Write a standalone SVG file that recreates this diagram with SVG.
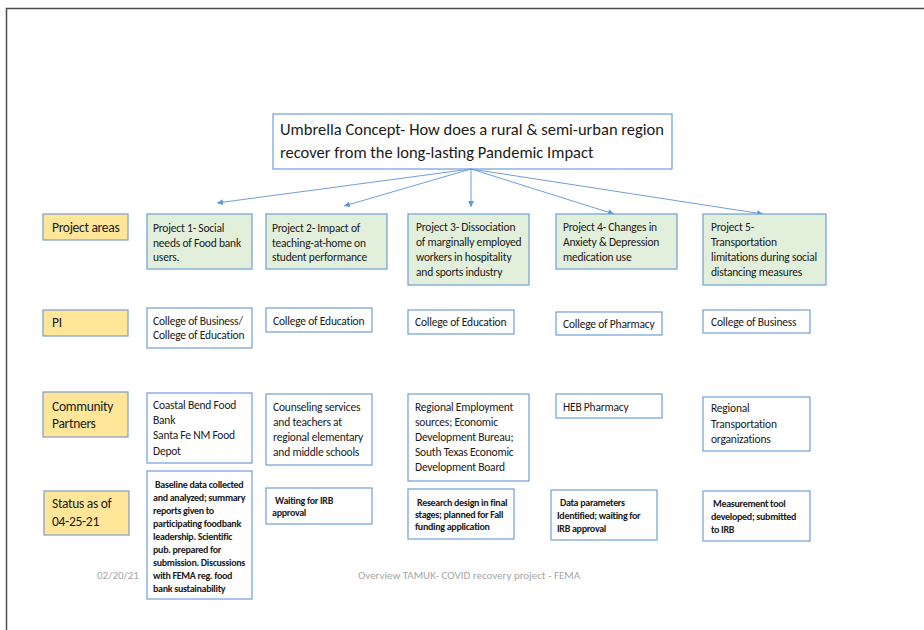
<svg xmlns="http://www.w3.org/2000/svg" width="924" height="630" viewBox="0 0 924 630">
  <style>
    .frame { fill: #ffffff; stroke: #4d4d4d; stroke-width: 1.5; }
    .box { fill: #ffffff; stroke: #6f9fd8; stroke-width: 1.2; }
    .proj { fill: #e2efda; stroke: #6f9fd8; stroke-width: 1.2; }
    .lbl { fill: #ffe699; stroke: #7c9ccc; stroke-width: 1.2; }
    .t { font-family: Carlito, Lato, "Liberation Sans", sans-serif; fill: #1a1a1a; font-size: 11.5px; letter-spacing: -0.2px; }
    .title { font-family: Carlito, Lato, "Liberation Sans", sans-serif; fill: #1a1a1a; font-size: 16.5px; }
    .lt { font-family: Carlito, Lato, "Liberation Sans", sans-serif; fill: #1a1a1a; font-size: 13.5px; letter-spacing: -0.3px; }
    .st { font-family: Carlito, Lato, "Liberation Sans", sans-serif; fill: #1a1a1a; font-size: 10px; font-weight: bold; letter-spacing: -0.3px; }
    .foot { font-family: Carlito, Lato, "Liberation Sans", sans-serif; fill: #a6a6a6; font-size: 11px; }
    .conn { stroke: #6f9fd8; stroke-width: 1; fill: none; marker-end: url(#arr); }
  </style>
  <defs>
    <marker id="arr" viewBox="0 0 10 10" refX="10" refY="5" markerWidth="6" markerHeight="6" orient="auto" markerUnits="userSpaceOnUse">
      <path d="M0,0 L10,5 L0,10 z" fill="#5b9bd5"/>
    </marker>
  </defs>

  <rect class="frame" x="6.5" y="8.5" width="1000" height="700"/>

  <!-- umbrella concept -->
  <g id="umbrella">
    <rect class="box" x="273" y="114" width="399" height="55"/>
    <text class="title" x="280" y="135">Umbrella Concept- How does a rural &amp; semi-urban region</text>
    <text class="title" x="280" y="158">recover from the long-lasting Pandemic Impact</text>
  </g>

  <!-- connectors from the umbrella box to each project -->
  <g id="connectors">
    <line class="conn" x1="471" y1="169" x2="217" y2="203"/>
    <line class="conn" x1="471" y1="169" x2="344" y2="206"/>
    <line class="conn" x1="471" y1="169" x2="471" y2="207"/>
    <line class="conn" x1="471" y1="169" x2="614" y2="214"/>
    <line class="conn" x1="471" y1="169" x2="763" y2="214"/>
  </g>

  <!-- row labels -->
  <g id="label-project-areas">
    <rect class="lbl" x="43" y="214" width="85" height="26"/>
    <text class="lt" x="52" y="232">Project areas</text>
  </g>
  <g id="label-pi">
    <rect class="lbl" x="43" y="310" width="85" height="26"/>
    <text class="lt" x="52" y="327">PI</text>
  </g>
  <g id="label-community">
    <rect class="lbl" x="43" y="392" width="85" height="45"/>
    <text class="lt" x="52" y="411">Community</text>
    <text class="lt" x="52" y="428">Partners</text>
  </g>
  <g id="label-status">
    <rect class="lbl" x="44" y="491" width="85" height="44"/>
    <text class="lt" x="52" y="508">Status as of</text>
    <text class="lt" x="52" y="526">04-25-21</text>
  </g>

  <!-- project areas -->
  <g id="project-1">
    <rect class="proj" x="147" y="214" width="105" height="55"/>
    <text class="t" x="153" y="232">Project 1- Social</text>
    <text class="t" x="153" y="246.5">needs of Food bank</text>
    <text class="t" x="153" y="261">users.</text>
  </g>
  <g id="project-2">
    <rect class="proj" x="266" y="214" width="121" height="55"/>
    <text class="t" x="272" y="232">Project 2- Impact of</text>
    <text class="t" x="272" y="246.5">teaching-at-home on</text>
    <text class="t" x="272" y="261">student performance</text>
  </g>
  <g id="project-3">
    <rect class="proj" x="408" y="214" width="121" height="71"/>
    <text class="t" x="416" y="231">Project 3-  Dissociation</text>
    <text class="t" x="416" y="246">of marginally employed</text>
    <text class="t" x="416" y="261">workers in hospitality</text>
    <text class="t" x="416" y="276">and sports industry</text>
  </g>
  <g id="project-4">
    <rect class="proj" x="556" y="214" width="121" height="55"/>
    <text class="t" x="563" y="231">Project 4- Changes in</text>
    <text class="t" x="563" y="246">Anxiety &amp; Depression</text>
    <text class="t" x="563" y="261">medication use</text>
  </g>
  <g id="project-5">
    <rect class="proj" x="703" y="214" width="123" height="71"/>
    <text class="t" x="711" y="231">Project 5-</text>
    <text class="t" x="711" y="246">Transportation</text>
    <text class="t" x="711" y="261">limitations during social</text>
    <text class="t" x="711" y="276">distancing measures</text>
  </g>

  <!-- principal investigators -->
  <g id="pi-1">
    <rect class="box" x="147" y="308" width="105" height="40"/>
    <text class="t" x="153" y="325">College of Business/</text>
    <text class="t" x="153" y="339">College of Education</text>
  </g>
  <g id="pi-2">
    <rect class="box" x="266" y="308" width="106" height="24"/>
    <text class="t" x="273" y="325">College of Education</text>
  </g>
  <g id="pi-3">
    <rect class="box" x="408" y="310" width="106" height="24"/>
    <text class="t" x="415" y="326">College of Education</text>
  </g>
  <g id="pi-4">
    <rect class="box" x="556" y="312" width="106" height="23"/>
    <text class="t" x="563" y="328">College of Pharmacy</text>
  </g>
  <g id="pi-5">
    <rect class="box" x="703" y="310" width="107" height="23"/>
    <text class="t" x="711" y="326">College of Business</text>
  </g>

  <!-- community partners -->
  <g id="partners-1">
    <rect class="box" x="147" y="393" width="105" height="70"/>
    <text class="t" x="153" y="409">Coastal Bend Food</text>
    <text class="t" x="153" y="424">Bank</text>
    <text class="t" x="153" y="439">Santa Fe NM Food</text>
    <text class="t" x="153" y="455">Depot</text>
  </g>
  <g id="partners-2">
    <rect class="box" x="266" y="394" width="106" height="71"/>
    <text class="t" x="273" y="411">Counseling services</text>
    <text class="t" x="273" y="426">and teachers at</text>
    <text class="t" x="273" y="441">regional elementary</text>
    <text class="t" x="273" y="456">and middle schools</text>
  </g>
  <g id="partners-3">
    <rect class="box" x="408" y="394" width="121" height="87"/>
    <text class="t" x="415" y="411">Regional Employment</text>
    <text class="t" x="415" y="426">sources; Economic</text>
    <text class="t" x="415" y="441">Development Bureau;</text>
    <text class="t" x="415" y="456">South Texas Economic</text>
    <text class="t" x="415" y="471">Development Board</text>
  </g>
  <g id="partners-4">
    <rect class="box" x="556" y="394" width="106" height="24"/>
    <text class="t" x="563" y="411">HEB Pharmacy</text>
  </g>
  <g id="partners-5">
    <rect class="box" x="703" y="397" width="107" height="54"/>
    <text class="t" x="711" y="412">Regional</text>
    <text class="t" x="711" y="428">Transportation</text>
    <text class="t" x="711" y="443">organizations</text>
  </g>

  <!-- status -->
  <g id="status-1">
    <rect class="box" x="147" y="471" width="105" height="128"/>
    <text class="st" x="155" y="487.5">Baseline data collected</text>
    <text class="st" x="153" y="500.5">and analyzed; summary</text>
    <text class="st" x="153" y="513.5">reports given to</text>
    <text class="st" x="153" y="526.5">participating foodbank</text>
    <text class="st" x="153" y="539.5">leadership.  Scientific</text>
    <text class="st" x="153" y="552.5">pub. prepared for</text>
    <text class="st" x="153" y="565.5">submission.  Discussions</text>
    <text class="st" x="153" y="578.5">with FEMA reg. food</text>
    <text class="st" x="153" y="591.5">bank sustainability</text>
  </g>
  <g id="status-2">
    <rect class="box" x="266" y="488" width="106" height="36"/>
    <text class="st" x="275" y="504">Waiting for IRB</text>
    <text class="st" x="272" y="516">approval</text>
  </g>
  <g id="status-3">
    <rect class="box" x="408" y="489" width="106" height="50"/>
    <text class="st" x="417" y="506">Research design in final</text>
    <text class="st" x="415" y="518">stages; planned for Fall</text>
    <text class="st" x="415" y="530">funding application</text>
  </g>
  <g id="status-4">
    <rect class="box" x="551" y="490" width="106" height="50"/>
    <text class="st" x="560" y="506">Data parameters</text>
    <text class="st" x="557" y="519">Identified; waiting for</text>
    <text class="st" x="557" y="532">IRB approval</text>
  </g>
  <g id="status-5">
    <rect class="box" x="703" y="491" width="107" height="50"/>
    <text class="st" x="713" y="507">Measurement tool</text>
    <text class="st" x="711" y="520">developed;  submitted</text>
    <text class="st" x="711" y="533">to IRB</text>
  </g>

  <!-- footer -->
  <text class="foot" x="97" y="579">02/20/21</text>
  <text class="foot" x="358" y="579">Overview TAMUK- COVID recovery project - FEMA</text>
</svg>
